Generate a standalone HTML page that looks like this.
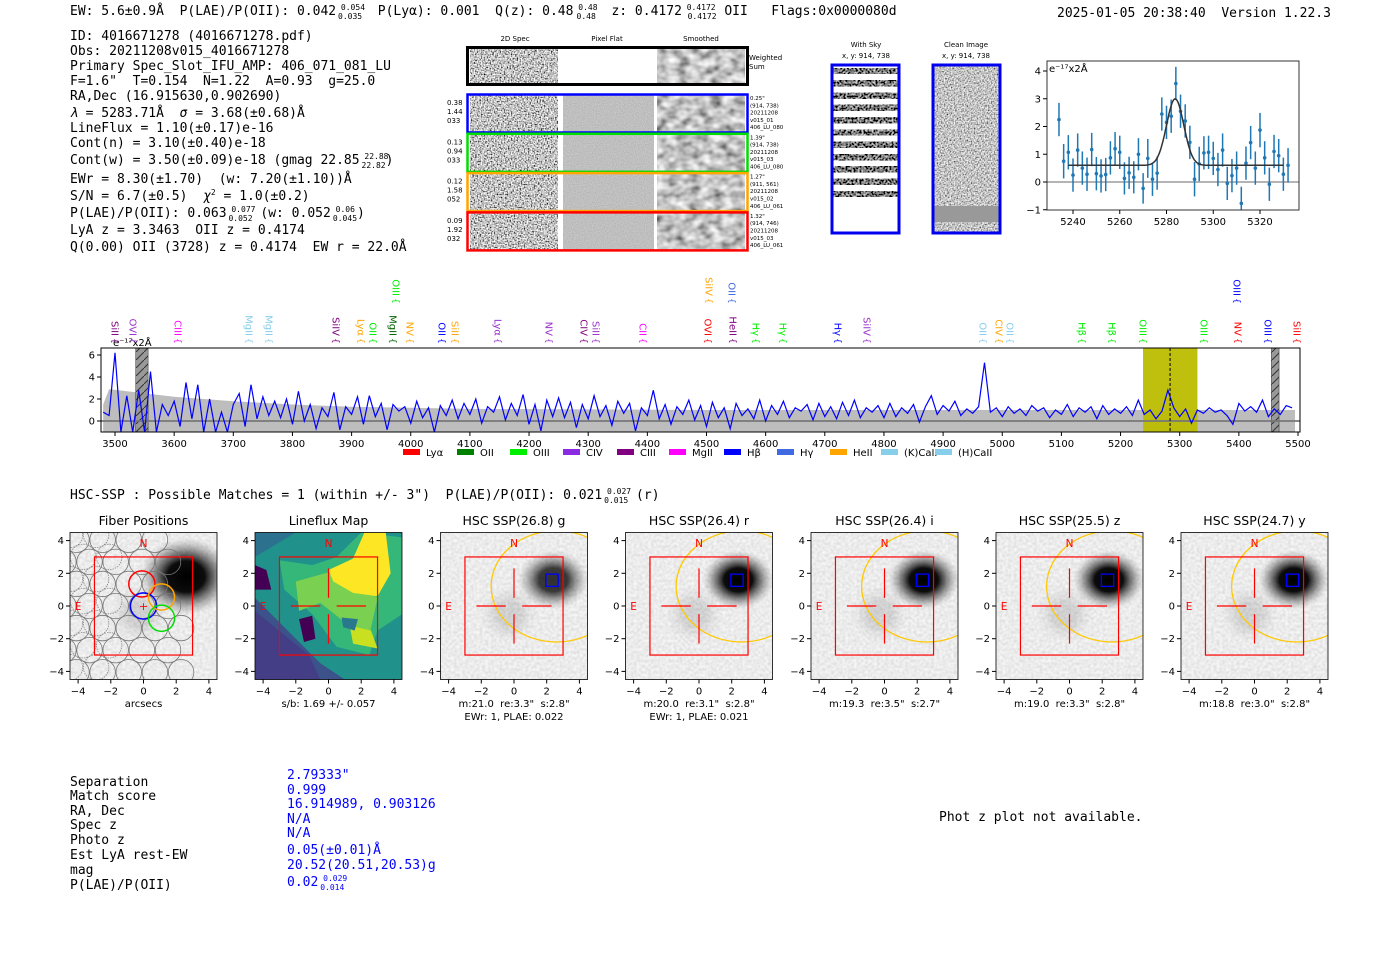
<!DOCTYPE html>
<html><head><meta charset="utf-8"><style>
body{margin:0;background:#fff;}
svg{display:block;font-family:"DejaVu Sans","Liberation Sans",sans-serif;}
svg text{white-space:pre;}
.mono{font-family:"DejaVu Sans Mono","Liberation Mono",monospace;font-size:13px;fill:#000;}
.tk{font-size:10px;fill:#000;}
.sm{font-size:7px;fill:#000;}
.tiny{font-size:5.5px;fill:#000;}
.ttl{font-size:12.5px;fill:#000;text-anchor:middle;}
</style></head><body>
<svg id="root" width="1400" height="953" viewBox="0 0 1400 953">
<defs>
<filter id="nHi" x="0" y="0" width="100%" height="100%"><feTurbulence type="fractalNoise" baseFrequency="0.7" numOctaves="1" seed="3"/><feColorMatrix type="matrix" values="2.4 0 0 0 -0.65  2.4 0 0 0 -0.65  2.4 0 0 0 -0.65  0 0 0 0 1"/></filter>
<filter id="nLo" x="0" y="0" width="100%" height="100%"><feTurbulence type="fractalNoise" baseFrequency="0.9" numOctaves="1" seed="5"/><feColorMatrix type="matrix" values="0.3 0 0 0 0.37  0.3 0 0 0 0.37  0.3 0 0 0 0.37  0 0 0 0 1"/></filter>
<filter id="nSm" x="0" y="0" width="100%" height="100%"><feTurbulence type="fractalNoise" baseFrequency="0.09 0.12" numOctaves="2" seed="8"/><feColorMatrix type="matrix" values="1.3 0 0 0 -0.1  1.3 0 0 0 -0.1  1.3 0 0 0 -0.1  0 0 0 0 1"/></filter>
<filter id="nCl" x="0" y="0" width="100%" height="100%"><feTurbulence type="fractalNoise" baseFrequency="0.7" numOctaves="1" seed="9"/><feColorMatrix type="matrix" values="1.8 0 0 0 -0.35  1.8 0 0 0 -0.35  1.8 0 0 0 -0.35  0 0 0 0 1"/></filter>
<filter id="nSky" x="0" y="0" width="100%" height="100%"><feTurbulence type="fractalNoise" baseFrequency="0.5" numOctaves="1" seed="2"/><feColorMatrix type="matrix" values="1.8 0 0 0 -0.7  1.8 0 0 0 -0.7  1.8 0 0 0 -0.7  0 0 0 0 1"/></filter>
<filter id="nBg" x="0" y="0" width="100%" height="100%"><feTurbulence type="fractalNoise" baseFrequency="0.35" numOctaves="1" seed="11"/><feColorMatrix type="matrix" values="0.35 0 0 0 0.66  0.35 0 0 0 0.66  0.35 0 0 0 0.66  0 0 0 0 1"/></filter>
<radialGradient id="blob"><stop offset="0" stop-color="#000"/><stop offset="0.4" stop-color="#000" stop-opacity="0.95"/><stop offset="0.7" stop-color="#333" stop-opacity="0.45"/><stop offset="1" stop-color="#888" stop-opacity="0"/></radialGradient>
<pattern id="hatch" width="8" height="8" patternUnits="userSpaceOnUse"><rect width="8" height="8" fill="#999"/><path d="M0 8 L8 0" stroke="#333" stroke-width="1"/></pattern>
<clipPath id="specClip"><rect x="101" y="348" width="1199" height="84"/></clipPath>
<clipPath id="miniClip"><rect x="1047" y="61" width="252" height="149"/></clipPath>
</defs>

<text class="mono" x="70" y="15">EW: 5.6±0.9Å  P(LAE)/P(OII): 0.042<tspan font-size="8" dy="-5"> 0.054</tspan><tspan font-size="8" dx="-27" dy="9">0.035</tspan><tspan dy="-4">  P(Lyα): 0.001  Q(z): 0.48</tspan><tspan font-size="8" dy="-5"> 0.48</tspan><tspan font-size="8" dx="-21" dy="9">0.48</tspan><tspan dy="-4">  z: 0.4172</tspan><tspan font-size="8" dy="-5"> 0.4172</tspan><tspan font-size="8" dx="-28" dy="9">0.4172</tspan><tspan dy="-4"> OII   Flags:0x0000080d</tspan></text>
<text class="mono" x="1057" y="17">2025-01-05 20:38:40  Version 1.22.3</text>

<g>
<text class="mono" x="70" y="40">ID: 4016671278 (4016671278.pdf)</text>
<text class="mono" x="70" y="55">Obs: 20211208v015_4016671278</text>
<text class="mono" x="70" y="70">Primary Spec_Slot_IFU_AMP: 406_071_081_LU</text>
<text class="mono" x="70" y="85">F=1.6"  T=0.154  N=1.22  A=0.93  g=25.0</text>
<text class="mono" x="70" y="100">RA,Dec (16.915630,0.902690)</text>
<text class="mono" x="70" y="117"><tspan font-style="italic">λ</tspan> = 5283.71Å  <tspan font-style="italic">σ</tspan> = 3.68(±0.68)Å</text>
<text class="mono" x="70" y="132">LineFlux = 1.10(±0.17)e-16</text>
<text class="mono" x="70" y="147">Cont(n) = 3.10(±0.40)e-18</text>
<text class="mono" x="70" y="164">Cont(w) = 3.50(±0.09)e-18 (gmag 22.85<tspan font-size="8" dy="-5"> 22.88</tspan><tspan font-size="8" dx="-27" dy="9">22.82</tspan><tspan dy="-4">)</tspan></text>
<text class="mono" x="70" y="183">EWr = 8.30(±1.70)  (w: 7.20(±1.10))Å</text>
<text class="mono" x="70" y="200">S/N = 6.7(±0.5)  <tspan font-style="italic">χ</tspan><tspan font-size="8" dy="-5">2</tspan><tspan dy="5"> = 1.0(±0.2)</tspan></text>
<text class="mono" x="70" y="217">P(LAE)/P(OII): 0.063<tspan font-size="8" dy="-5"> 0.077</tspan><tspan font-size="8" dx="-27" dy="9">0.052</tspan><tspan dy="-4"> (w: 0.052</tspan><tspan font-size="8" dy="-5"> 0.06</tspan><tspan font-size="8" dx="-22" dy="9">0.045</tspan><tspan dy="-4">)</tspan></text>
<text class="mono" x="70" y="234">LyA z = 3.3463  OII z = 0.4174</text>
<text class="mono" x="70" y="251">Q(0.00) OII (3728) z = 0.4174  EW r = 22.0Å</text>
</g>

<g>
<text class="sm" x="515" y="41" text-anchor="middle">2D Spec</text>
<text class="sm" x="607" y="41" text-anchor="middle">Pixel Flat</text>
<text class="sm" x="701" y="41" text-anchor="middle">Smoothed</text>
<g>
<rect x="470" y="47" width="88" height="36" fill="#888" filter="url(#nHi)"/>
<rect x="657" y="47" width="88" height="36" fill="#888" filter="url(#nSm)"/>
<rect x="467.5" y="47.5" width="280" height="37" fill="none" stroke="#000" stroke-width="3"/>
<text class="sm" x="749" y="60">Weighted</text><text class="sm" x="749" y="69">Sum</text>
</g>
</g>
<g id="rows2d"></g>

<g id="sky">
<text class="sm" font-size="9" x="866" y="47" text-anchor="middle">With Sky</text>
<text class="sm" font-size="9" x="866" y="58" text-anchor="middle">x, y: 914, 738</text>
<rect x="833" y="66" width="65" height="166" fill="#fff"/>
</g>
<g>
<text class="sm" font-size="9" x="966" y="47" text-anchor="middle">Clean Image</text>
<text class="sm" font-size="9" x="966" y="58" text-anchor="middle">x, y: 914, 738</text>
<rect x="934" y="66" width="65" height="166" fill="#888" filter="url(#nCl)"/>
<rect x="934" y="206" width="65" height="16" fill="#999"/>
<rect x="933" y="65" width="67" height="168" fill="none" stroke="#0000ee" stroke-width="3"/>
</g>

<g id="mini"></g>
<g id="spec"></g>

<text class="mono" x="70" y="499">HSC-SSP : Possible Matches = 1 (within +/- 3")  P(LAE)/P(OII): 0.021<tspan font-size="8" dy="-5"> 0.027</tspan><tspan font-size="8" dx="-27" dy="9">0.015</tspan><tspan dy="-4"> (r)</tspan></text>

<g id="panels"></g>

<g>
<text class="mono" x="70" y="786">Separation</text>
<text class="mono" x="70" y="800">Match score</text>
<text class="mono" x="70" y="815">RA, Dec</text>
<text class="mono" x="70" y="829">Spec z</text>
<text class="mono" x="70" y="844">Photo z</text>
<text class="mono" x="70" y="859">Est LyA rest-EW</text>
<text class="mono" x="70" y="874">mag</text>
<text class="mono" x="70" y="889">P(LAE)/P(OII)</text>
<text class="mono" style="fill:#0000ff" x="287" y="779">2.79333"</text>
<text class="mono" style="fill:#0000ff" x="287" y="794">0.999</text>
<text class="mono" style="fill:#0000ff" x="287" y="808">16.914989, 0.903126</text>
<text class="mono" style="fill:#0000ff" x="287" y="823">N/A</text>
<text class="mono" style="fill:#0000ff" x="287" y="837">N/A</text>
<text class="mono" style="fill:#0000ff" x="287" y="854">0.05(±0.01)Å</text>
<text class="mono" style="fill:#0000ff" x="287" y="869">20.52(20.51,20.53)g</text>
<text class="mono" style="fill:#0000ff" x="287" y="886">0.02<tspan font-size="8" dy="-5"> 0.029</tspan><tspan font-size="8" dx="-27" dy="9">0.014</tspan></text>
</g>
<text class="mono" x="939" y="821">Phot z plot not available.</text>
</svg>

<script>
const specStart = 3480, specStep = 10;
const specFlux = [0.8,0.5,6.2,-1,2.3,-1,2.8,-1,4.5,-1,
1.5,0.5,1.8,-0.5,3.5,0.2,3.3,-1,2.0,-1,0.8,-1,1.5,
2.5,-0.5,3.3,0.2,2.2,0.5,1.8,0.3,2.0,-0.3,
2.7,0.0,1.5,-0.7,1.2,0.4,2.6,-0.8,1.3,0.6,
2.2,-0.3,2.3,0.4,1.6,-0.8,1.5,0.9,1.3,-0.2,
1.8,0.3,1.2,-1,1.4,0.5,1.9,0.2,1.6,0.6,
2.0,-0.2,1.3,0.8,2.2,0.1,1.6,0.5,2.4,-0.3,
1.5,-0.9,1.9,0.4,2.1,0.3,1.7,-0.6,1.5,0.2,
2.3,0.4,1.4,-0.4,1.8,0.7,1.6,-0.9,1.2,0.5,
2.8,0.2,1.5,-0.3,1.3,0.6,1.9,0.1,1.4,-0.5,
1.7,0.3,1.2,-0.7,1.6,0.5,1.1,0.2,1.9,0.0,
1.4,0.6,1.8,0.3,1.2,0.9,1.5,0.1,1.6,0.4,
1.3,0.2,1.7,0.5,1.9,0.3,1.2,0.8,1.4,0.3,
1.6,0.4,1.2,0.7,1.5,-0.1,1.3,2.3,0.6,1.4,
0.9,1.8,0.5,1.1,0.7,1.3,5.3,0.8,1.2,0.4,
1.3,0.7,1.1,0.5,1.4,0.9,1.2,0.3,1.0,0.6,
1.5,0.4,1.2,0.8,1.3,0.2,1.4,0.6,1.1,0.7,
1.3,0.5,1.9,0.6,1.0,0.2,0.9,2.8,1.2,0.4,
1.1,-0.2,1.0,0.7,1.2,0.8,1.0,0.5,-0.3,1.6,
0.9,1.3,0.8,1.9,0.4,1.1,0.6,1.4,1.2];
const errWave = [3480,3490,3600,3700,3800,3900,4000,4100,4300,4500,5000,5495];
const errUpper = [1.5,2.9,2.2,1.8,1.5,1.3,1.2,1.1,1.05,1.0,1.0,1.0];
const specXTicks = [3500,3600,3700,3800,3900,4000,4100,4200,4300,4400,4500,4600,4700,4800,4900,5000,5100,5200,5300,5400,5500];
const specYTicks = [0,2,4,6];
const fitWindow = [5238,5330];
const fitCenter = 5283.71;

const miniWave = [5234,5236,5238,5240,5242,5244,5246,5248,5250,5252,5254,5256,5258,5260,5262,5264,5266,5268,5270,5272,5274,5276,5278,5280,5282,5284,5286,5288,5290,5292,5294,5296,5298,5300,5302,5304,5306,5308,5310,5312,5314,5316,5318,5320,5322,5324,5326,5328,5330,5332];
const miniFlux = [2.25,0.75,1.07,0.25,1.15,0.5,0.28,1.17,0.3,0.22,0.27,0.87,1.2,1.07,0.13,0.33,0.17,1.0,-0.23,0.85,0.1,0.32,2.45,2.15,2.37,3.55,2.55,2.2,1.43,0.1,0.65,1.05,1.07,0.85,0.45,1.15,-0.05,0.23,0.5,-0.77,0.68,1.42,0.5,1.87,0.87,-0.08,1.1,0.95,0.28,0.6];
const miniErr = [0.6,0.62,0.62,0.6,0.6,0.6,0.6,0.6,0.6,0.6,0.6,0.6,0.6,0.6,0.58,0.58,0.58,0.58,0.55,0.7,0.6,0.6,0.6,0.6,0.6,0.6,0.6,0.6,0.6,0.62,0.62,0.6,0.6,0.6,0.6,0.6,0.6,0.6,0.6,0.6,0.6,0.6,0.6,0.62,0.6,0.6,0.6,0.6,0.6,0.62];
const fitCont = 0.6, fitPeak = 2.4, fitSigma = 3.68;
const miniXTicks = [5240,5260,5280,5300,5320];
const miniYTicks = [-1,0,1,2,3,4];

const lineLabels = [
 [115,'SiII','#800080',1],[133,'OVI','#9932cc',1],[178,'CIII','#ff00ff',1],[249,'MgII','#87ceeb',1],[269,'MgII','#87ceeb',1],
 [336,'SiIV','#800080',1],[361,'Lyα','#ffa500',1],[373,'OII','#00ee00',1],[393,'MgII','#006400',1],[410,'NV','#ffa500',1],
 [442,'OII','#0000ff',1],[455,'SiII','#ffa500',1],[498,'Lyα','#9932cc',1],[549,'NV','#9932cc',1],[584,'CIV','#800080',1],
 [596,'SiII','#9932cc',1],[643,'CII','#ff00ff',1],[708,'OVI','#ff0000',1],[733,'HeII','#800080',1],[756,'Hγ','#00ee00',1],
 [783,'Hγ','#00ee00',1],[838,'Hγ','#0000ff',1],[867,'SiIV','#9932cc',1],[983,'OII','#87ceeb',1],[999,'CIV','#ffa500',1],
 [1010,'OII','#87ceeb',1],[1082,'Hβ','#00ee00',1],[1112,'Hβ','#00ee00',1],[1143,'OIII','#00ee00',1],[1204,'OIII','#00ee00',1],
 [1238,'NV','#ff0000',1],[1268,'OIII','#0000ff',1],[1297,'SiII','#ff0000',1],
 [396,'OIII','#00ee00',2],[709,'SiIV','#ffa500',2],[732,'OII','#4169e1',2],[1237,'OIII','#0000ff',2]];
const legendItems = [['Lyα','#ff0000',403],['OII','#008000',457],['OIII','#00ee00',510],['CIV','#8a2be2',563],['CIII','#800080',617],['MgII','#ff00ff',669],['Hβ','#0000ff',724],['Hγ','#4169e1',777],['HeII','#ffa500',830],['(K)CaII','#87ceeb',881],['(H)CaII','#87ceeb',935]];

const rows2d = [['#0000ff',['0.38','1.44','033'],['0.25"','(914, 738)','20211208','v015_01','406_LU_080']],
 ['#00dd00',['0.13','0.94','033'],['1.39"','(914, 738)','20211208','v015_03','406_LU_080']],
 ['#ffa500',['0.12','1.58','052'],['1.27"','(911, 561)','20211208','v015_02','406_LU_061']],
 ['#ff0000',['0.09','1.92','032'],['1.32"','(914, 746)','20211208','v015_03','406_LU_061']]];

const panelTitles = ['Fiber Positions','Lineflux Map','HSC SSP(26.8) g','HSC SSP(26.4) r','HSC SSP(26.4) i','HSC SSP(25.5) z','HSC SSP(24.7) y'];
const panelSub1 = ['arcsecs','s/b: 1.69 +/- 0.057','m:21.0  re:3.3"  s:2.8"','m:20.0  re:3.1"  s:2.8"','m:19.3  re:3.5"  s:2.7"','m:19.0  re:3.3"  s:2.8"','m:18.8  re:3.0"  s:2.8"'];
const panelSub2 = ['','','EWr: 1, PLAE: 0.022','EWr: 1, PLAE: 0.021','','',''];
const panelTicks = [-4,-2,0,2,4];
const fiberColored = [[-0.1,1.35,'#ff0000'],[0,0,'#0000ff'],[1.1,0.55,'#ffa500'],[1.1,-0.75,'#00dd00']];

const NS='http://www.w3.org/2000/svg';
function mk(tag, attrs, parent, txt){const e=document.createElementNS(NS,tag);for(const k in attrs)e.setAttribute(k,attrs[k]);if(txt!==undefined)e.textContent=txt;parent.appendChild(e);return e;}

(function(){
 const g=document.getElementById('rows2d');
 rows2d.forEach((r,i)=>{
  const y=95+i*39.3;
  const rg=mk('g',{},g);
  
  
  mk('rect',{x:470,y:y,width:88,height:37,fill:'#888',filter:'url(#nHi)'},rg);
  mk('rect',{x:563,y:y,width:91,height:37,fill:'#888',filter:'url(#nLo)'},rg);
  mk('rect',{x:657,y:y,width:88,height:37,fill:'#888',filter:'url(#nSm)'},rg);
  mk('rect',{x:467.5,y:y-0.5,width:280,height:38,fill:'none',stroke:r[0],'stroke-width':2.5},rg);
  r[1].forEach((t,j)=>mk('text',{class:'sm',x:447,y:y+10+j*9},rg,t));
  r[2].forEach((t,j)=>mk('text',{class:'tiny',x:750,y:y+5+j*7.3},rg,t));
 });
})();

(function(){
 const g=document.getElementById('sky');
 for(let k=0;k<13;k++){
  const y=68+k*12.3;
  if(y>196&&y<218)continue;
  mk('rect',{x:833,y:y,width:65,height:6,fill:'#888',filter:'url(#nSky)'},g);
 }
 mk('rect',{x:832,y:65,width:67,height:168,fill:'none',stroke:'#0000ee','stroke-width':3},g);
})();

(function(){
 const g=document.getElementById('mini');
 const X=w=>1073+(w-5240)*2.3375, Y=v=>182-v*27.75;
 mk('line',{x1:1047,x2:1299,y1:Y(0),y2:Y(0),stroke:'#888','stroke-width':1.2},g);
 const cg=mk('g',{'clip-path':'url(#miniClip)'},g);
 miniWave.forEach((w,i)=>{
  const e=mk('line',{x1:X(w),x2:X(w),y1:Y(miniFlux[i]-miniErr[i]),y2:Y(miniFlux[i]+miniErr[i]),stroke:'#1f77b4','stroke-width':1.5},cg);
  
  
  const c=mk('circle',{cx:X(w),cy:Y(miniFlux[i]),r:1.8,fill:'#1f77b4'},cg);
  
  
 });
 let d='';
 for(let w=5238;w<=5330;w+=0.5){const v=fitCont+fitPeak*Math.exp(-0.5*Math.pow((w-fitCenter)/fitSigma,2));d+=(d?'L':'M')+X(w).toFixed(1)+' '+Y(v).toFixed(1);}
 const fl=mk('path',{d:d,fill:'none',stroke:'#333','stroke-width':1.5},cg);
 
 
 mk('rect',{x:1047,y:61,width:252,height:149,fill:'none',stroke:'#333','stroke-width':1},g);
 miniXTicks.forEach(t=>{mk('line',{x1:X(t),x2:X(t),y1:210,y2:214,stroke:'#000'},g);mk('text',{class:'tk','font-size':9.5,x:X(t),y:225,'text-anchor':'middle'},g,t);});
 miniYTicks.forEach(t=>{mk('line',{x1:1043,x2:1047,y1:Y(t),y2:Y(t),stroke:'#000'},g);mk('text',{class:'tk','font-size':9.5,x:1041,y:Y(t)+3.5,'text-anchor':'end'},g,t<0?'−'+(-t):t);});
 mk('text',{class:'tk','font-size':9,x:1049,y:72},g,'e⁻¹⁷x2Å');
})();

(function(){
 const g=document.getElementById('spec');
 const X=w=>115+(w-3500)*0.5915, Y=v=>421-v*11;
 const cg=mk('g',{'clip-path':'url(#specClip)'},g);
 let d='M'+X(errWave[0])+' 432';
 errWave.forEach((w,i)=>{d+='L'+X(w).toFixed(1)+' '+Y(errUpper[i]).toFixed(1);});
 d+='L'+X(errWave[errWave.length-1])+' 432Z';
 const band=mk('path',{d:d,fill:'#bdbdbd'},cg);
 
 
 const fw=mk('rect',{x:X(fitWindow[0]),y:348,width:X(fitWindow[1])-X(fitWindow[0]),height:84,fill:'#bcbc00',opacity:0.95},cg);
 
 
 mk('rect',{x:X(3535),y:348,width:X(3556)-X(3535),height:84,fill:'url(#hatch)',stroke:'#333','stroke-width':0.5},cg);
 mk('rect',{x:X(5455),y:348,width:X(5468)-X(5455),height:84,fill:'url(#hatch)',stroke:'#333','stroke-width':0.5},cg);
 mk('line',{x1:101,x2:1300,y1:Y(0),y2:Y(0),stroke:'#777','stroke-width':1.8},cg);
 let p='';
 specFlux.forEach((v,i)=>{p+=(i?'L':'M')+X(specStart+i*specStep).toFixed(1)+' '+Y(v).toFixed(1);});
 const sl=mk('path',{d:p,fill:'none',stroke:'#0000ff','stroke-width':1.2},cg);
 
 
 mk('line',{x1:X(fitCenter),x2:X(fitCenter),y1:348,y2:432,stroke:'#000','stroke-width':1,'stroke-dasharray':'3,2'},cg);
 mk('rect',{x:101,y:348,width:1199,height:84,fill:'none',stroke:'#000','stroke-width':1},g);
 specXTicks.forEach(t=>{mk('line',{x1:X(t),x2:X(t),y1:432,y2:436,stroke:'#000'},g);mk('text',{class:'tk',x:X(t),y:447,'text-anchor':'middle'},g,t);});
 specYTicks.forEach(t=>{mk('line',{x1:97,x2:101,y1:Y(t),y2:Y(t),stroke:'#000'},g);mk('text',{class:'tk',x:95,y:Y(t)+3.5,'text-anchor':'end'},g,t);});
 mk('text',{class:'tk','font-size':9,x:113,y:346},g,'e⁻¹⁷x2Å');
 lineLabels.forEach(l=>{
  const yb=l[3]===1?343:303;
  const t=mk('text',{x:0,y:0,fill:l[2],'font-size':10,transform:`translate(${l[0]-3.5},${yb-7}) rotate(90)`,'text-anchor':'end'},g,l[1]);
  
  
  mk('text',{x:0,y:0,fill:l[2],'font-size':9,transform:`translate(${l[0]-3},${yb-5}) rotate(90)`},g,'{');
 });
 legendItems.forEach(li=>{
  const lg=mk('g',{},g);
  
  
  mk('rect',{x:li[2],y:449,width:17,height:6,fill:li[1]},lg);
  mk('text',{class:'tk','font-size':8,x:li[2]+23,y:456},lg,li[0]);
 });
})();

(function(){
 const g=document.getElementById('panels');
 const Ls=[70,255,440.5,625.5,811,996,1181];
 const S=16.35, H=147, top=532.5;
 Ls.forEach((L,i)=>{
  const pg=mk('g',{},g);
  
  
  const cx=L+73.5, cy=606;
  const X=u=>cx+u*S, Y=u=>cy-u*S;
  const P=a=>a.map(p=>X(p[0])+','+Y(p[1])).join(' ');
  const cp=mk('clipPath',{id:'pc'+i},pg); mk('rect',{x:L,y:top,width:H,height:H},cp);
  const ig=mk('g',{'clip-path':`url(#pc${i})`},pg);
  if(i===1){
   mk('rect',{x:L,y:top,width:H,height:H,fill:'#3b528b'},ig);
   mk('polygon',{points:P([[-4.5,4.5],[4.5,4.5],[4.5,-4.5],[1,-4.5],[-0.5,-3.5],[-3,-1],[-4.5,0.5]]),fill:'#21918c'},ig);
   mk('polygon',{points:P([[-4.5,4.5],[-2,4.5],[-4.5,3]]),fill:'#2c728e'},ig);
   mk('polygon',{points:P([[-3,2.8],[-1,2.5],[0.5,3],[2,4.5],[4.5,4.2],[4.5,-0.5],[3,-1.5],[2.5,-3],[0.5,-2.5],[-1,-0.5],[-2.7,1]]),fill:'#35b779'},ig);
   mk('polygon',{points:P([[-2,1.5],[0.5,2.2],[1.5,1.5],[3,0.5],[2.5,-1.8],[1,-1],[-0.5,0.2],[-1.8,-0.3]]),fill:'#7ad151'},ig);
   mk('polygon',{points:P([[0,2.2],[1.5,2.9],[2.2,4.5],[3.5,4.5],[3.8,2],[3,0.6],[1.5,0.8],[0.3,1.5]]),fill:'#fde725'},ig);
   mk('polygon',{points:P([[1.3,-1.2],[2.6,-1.5],[3,-2.6],[1.5,-2.3]]),fill:'#c8e020'},ig);
   mk('polygon',{points:P([[0.8,-0.7],[1.8,-0.8],[1.6,-1.5],[0.9,-1.3]]),fill:'#2a788e'},ig);
   mk('polygon',{points:P([[-1.8,-0.8],[-1,-0.6],[-0.8,-2],[-1.5,-2.2]]),fill:'#440154'},ig);
   mk('polygon',{points:P([[-4.5,2.5],[-3.8,2.2],[-3.5,1],[-4.5,1]]),fill:'#440154'},ig);
   mk('polygon',{points:P([[-4.5,-4.5],[-0.5,-4.5],[-1.2,-3],[-4.5,-0.3]]),fill:'#433e85'},ig);
  } else {
   mk('rect',{x:L,y:top,width:H,height:H,fill:'#ccc',filter:'url(#nBg)'},ig);
   const bx=i===0?2.6:2.4, by=i===0?1.8:1.6, br=i===0?2.5:1.9;
   mk('ellipse',{cx:X(bx),cy:Y(by),rx:br*S*1.15,ry:br*S*0.95,fill:'url(#blob)',opacity:i===2?0.8:1},ig);
   mk('ellipse',{cx:X(-0.3),cy:Y(-0.5),rx:1.8*S,ry:1.8*S,fill:'url(#blob)',opacity:0.12},ig);
  }
  if(i===0){
   const cs=[];
   for(let r=-3;r<=3;r++)for(let c=-3;c<=2;c++){const x=c*1.6+(r%2?0.8:0)-0.1, y=r*1.35; if(x>1.5&&y>0.8)continue; if(x>2.6)continue; cs.push([x,y]);}
   cs.forEach(p=>mk('circle',{cx:X(p[0]),cy:Y(p[1]),r:0.78*S,fill:'none',stroke:'#777','stroke-width':0.8},ig));
   cs.forEach(p=>{if(p[0]<-1.5)mk('circle',{cx:X(p[0]-0.4),cy:Y(p[1]+0.3),r:0.78*S,fill:'none',stroke:'#888','stroke-width':0.8,'stroke-dasharray':'1.5,1'},ig);});
   fiberColored.forEach(f=>{const c=mk('circle',{cx:X(f[0]),cy:Y(f[1]),r:0.8*S,fill:'none',stroke:f[2],'stroke-width':1.5},ig);});
   mk('text',{x:X(0),y:Y(0)+4,fill:'#f00','font-size':11,'text-anchor':'middle'},ig,'+');
  }
  if(i>=2){
   mk('ellipse',{cx:X(2.6),cy:Y(1.2),rx:4.0*S,ry:3.4*S,fill:'none',stroke:'#ffc800','stroke-width':1.3},ig);
   mk('rect',{x:X(1.95),y:Y(1.95),width:0.75*S,height:0.75*S,fill:'none',stroke:'#0000ff','stroke-width':1.3},ig);
  }
  mk('rect',{x:X(-3),y:Y(3),width:6*S,height:6*S,fill:'none',stroke:'#ff0000','stroke-width':1.2},pg);
  if(i>=1){
   [[-2.3,0,-0.5,0],[0.5,0,2.3,0],[0,2.3,0,0.5],[0,-0.5,0,-2.3]].forEach(s=>mk('line',{x1:X(s[0]),y1:Y(s[1]),x2:X(s[2]),y2:Y(s[3]),stroke:'#ff0000','stroke-width':1.2},pg));
  }
  mk('text',{x:X(0),y:Y(3.6),fill:'#ff0000','font-size':10.5,'text-anchor':'middle'},pg,'N');
  mk('text',{x:X(-4),y:Y(0)+4,fill:'#ff0000','font-size':10.5,'text-anchor':'middle'},pg,'E');
  mk('rect',{x:L,y:top,width:H,height:H,fill:'none',stroke:'#000','stroke-width':0.8},pg);
  panelTicks.forEach(t=>{
   const lb=t<0?'−'+(-t):String(t);
   mk('line',{x1:X(t),x2:X(t),y1:top+H,y2:top+H+4,stroke:'#000'},pg);
   mk('text',{class:'tk',x:X(t),y:top+H+15,'text-anchor':'middle'},pg,lb);
   mk('line',{x1:L-4,x2:L,y1:Y(t),y2:Y(t),stroke:'#000'},pg);
   mk('text',{class:'tk',x:L-6,y:Y(t)+3.5,'text-anchor':'end'},pg,lb);
  });
  mk('text',{class:'ttl',x:cx,y:525},pg,panelTitles[i]);
  mk('text',{class:'tk','font-size':10.5,x:cx,y:707,'text-anchor':'middle'},pg,panelSub1[i]);
  if(panelSub2[i])mk('text',{class:'tk','font-size':10.5,x:cx,y:720,'text-anchor':'middle'},pg,panelSub2[i]);
 });
})();
</script>
</body></html>
